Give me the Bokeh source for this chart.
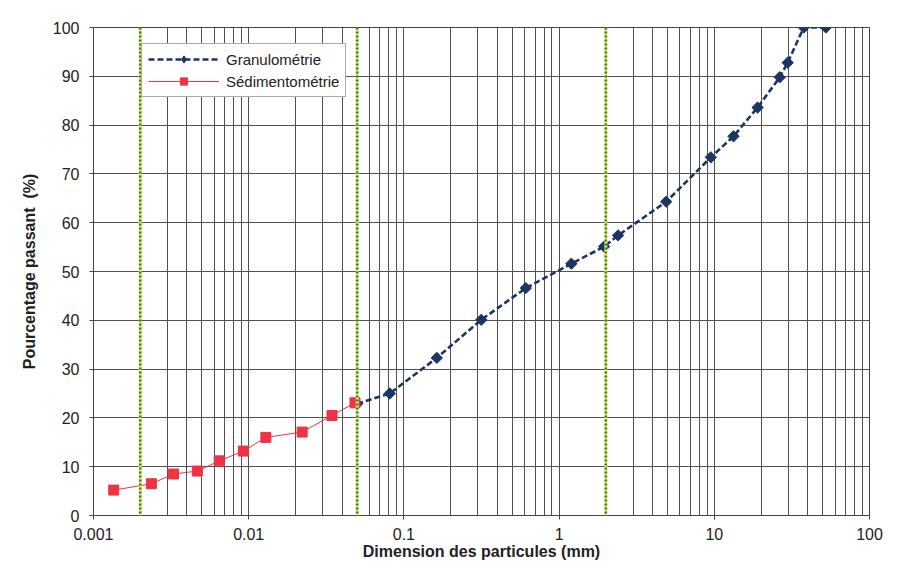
import math
from bokeh.plotting import figure
from bokeh.models import (FixedTicker, Range1d, Legend, LegendItem, Span,
                          ColumnDataSource)
from bokeh.embed import file_html
from bokeh.resources import INLINE

# ---- data ----
sedi_d = [0.00135, 0.00236, 0.00328, 0.00467, 0.00646, 0.00924, 0.0129, 0.0221, 0.0344, 0.0484]
sedi_p = [5.2, 6.5, 8.5, 9.1, 11.2, 13.2, 16.0, 17.1, 20.5, 23.1]
gran_d = [0.05, 0.081, 0.163, 0.315, 0.61, 1.2, 1.95, 2.4, 4.9, 9.5, 13.3, 19.0, 26.4, 29.7, 37.7, 52.4]
gran_p = [22.9, 25.0, 32.3, 40.1, 46.6, 51.6, 55.1, 57.4, 64.3, 73.4, 77.7, 83.6, 89.8, 92.8, 100.0, 100.0]
limits = [0.002, 0.05, 2.0]
x_ticks = [0.001, 0.01, 0.1, 1, 10, 100]
x_tick_labels = ["0.001", "0.01", "0.1", "1", "10", "100"]
y_ticks = list(range(0, 101, 10))

FONT = "Liberation Sans"
GRID = "#505050"
NAVY = "#1c3563"
RED = "#ee3344"

p = figure(width=910, height=571, x_axis_type="log",
           x_range=Range1d(0.001, 100), y_range=Range1d(0, 100),
           output_backend="svg", toolbar_location=None,
           min_border_left=93, min_border_right=41,
           min_border_top=27, min_border_bottom=56)
p.background_fill_color = "white"
p.border_fill_color = "white"
p.outline_line_color = "#444444"
p.outline_line_width = 1

minor = [m * d for d in x_ticks[:-1] for m in range(2, 10)]
p.xaxis.ticker = FixedTicker(ticks=x_ticks, minor_ticks=minor)
p.xaxis.major_label_overrides = {t: l for t, l in zip(x_ticks, x_tick_labels)}
p.yaxis.ticker = FixedTicker(ticks=y_ticks)

p.xgrid.grid_line_color = GRID
p.xgrid.minor_grid_line_color = GRID
p.xgrid.grid_line_width = 1
p.xgrid.minor_grid_line_width = 1
p.ygrid.grid_line_color = GRID
p.ygrid.grid_line_width = 1

for ax in (p.xaxis, p.yaxis):
    ax.axis_line_color = "#444444"
    ax.major_tick_line_color = "#444444"
    ax.major_tick_in = 0
    ax.major_tick_out = 4
    ax.minor_tick_line_color = None
    ax.major_label_text_font = FONT
    ax.major_label_text_font_size = "16px"
    ax.major_label_text_color = "#222222"
    ax.axis_label_text_font = FONT
    ax.axis_label_text_font_size = "16px"
    ax.axis_label_text_font_style = "bold"
    ax.axis_label_text_color = "#222222"

p.xaxis.axis_label = "Dimension des particules (mm)"
p.yaxis.axis_label = "Pourcentage passant\u00a0 (%)"
p.xaxis.major_label_standoff = 8
p.xaxis.axis_label_standoff = 0
p.yaxis.major_label_standoff = 10
p.yaxis.axis_label_standoff = 12

# limit lines (green dotted on a yellow glow)
for loc in limits:
    p.add_layout(Span(location=loc, dimension="height", line_color="#e4ec6a",
                      line_width=3))
    p.add_layout(Span(location=loc, dimension="height", line_color="#2f7d34",
                      line_width=2.5, line_dash="2 2"))

gsrc = ColumnDataSource(dict(d=gran_d, p=gran_p))
gl = p.line("d", "p", source=gsrc, line_color=NAVY, line_width=2.6, line_dash="6 3")
gs = p.scatter("d", "p", source=gsrc, marker="square", size=8, angle=math.pi / 4,
               fill_color=NAVY, line_color=NAVY)

# legend-only diamond symbol: drawn invisibly on the plot (selection trick)
lsrc = ColumnDataSource(dict(d=gran_d, p=gran_p))
lsrc.selected.indices = [0]
gleg = p.scatter("d", "p", source=lsrc, marker="diamond", size=12,
                 fill_color=NAVY, line_color=NAVY,
                 selection_fill_alpha=0, selection_line_alpha=0,
                 nonselection_fill_alpha=0, nonselection_line_alpha=0)

sl = p.line(sedi_d, sedi_p, line_color=RED, line_width=1)
ss = p.scatter(sedi_d, sedi_p, marker="square", size=10, fill_color=RED,
               line_color=RED)

legend = Legend(items=[LegendItem(label="Granulométrie", renderers=[gl, gleg]),
                       LegendItem(label="Sédimentométrie", renderers=[sl, ss])],
                location=(48, 418))
legend.label_text_font = FONT
legend.label_text_font_size = "15px"
legend.label_text_color = "#222222"
legend.glyph_width = 71
legend.glyph_height = 18
legend.label_height = 18
legend.spacing = 4
legend.padding = 6
legend.margin = 0
legend.label_standoff = 7
legend.border_line_color = "#555555"
legend.border_line_width = 1
legend.background_fill_color = "white"
legend.background_fill_alpha = 1
p.add_layout(legend)

open("out.html", "w").write(file_html(p, INLINE))
